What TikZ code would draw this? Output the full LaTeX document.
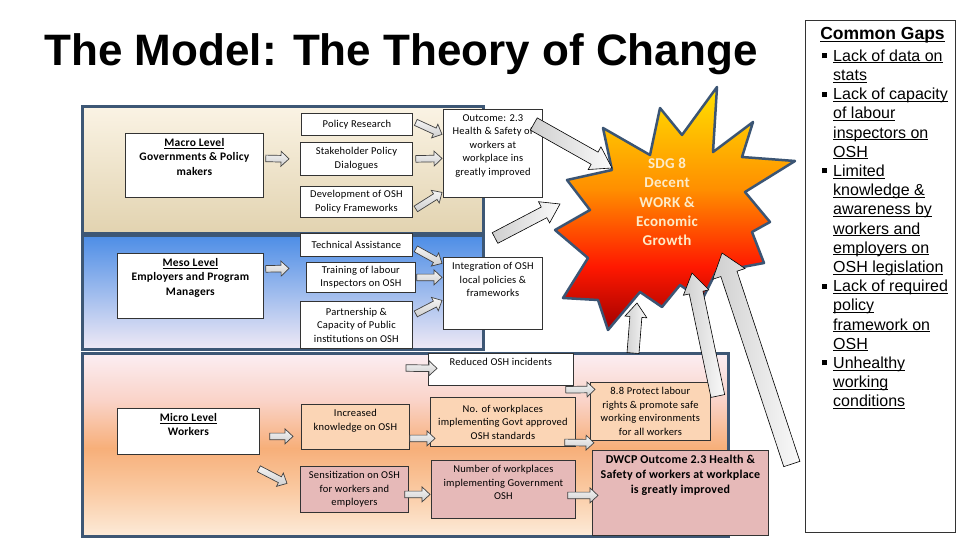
\documentclass[tikz,border=0pt]{standalone}
\usepackage{fontspec}
\setmainfont{Carlito}
\newfontfamily\arialfont{Liberation Sans}
\newfontfamily\boxfont[LetterSpace=2]{Carlito}
\usetikzlibrary{calc, positioning}

\definecolor{bandEdge}{HTML}{3D5775}
\definecolor{macTop}{HTML}{FAF3E4}
\definecolor{macBot}{HTML}{E2D3B0}
\definecolor{mesTop}{HTML}{4C8DE6}
\definecolor{mesBot}{HTML}{EFE9F5}
\definecolor{micTop}{HTML}{FBEEF3}
\definecolor{micUp}{HTML}{FAD3C8}
\definecolor{micMid}{HTML}{F7AF79}
\definecolor{micLow}{HTML}{FACBA4}
\definecolor{micBot}{HTML}{FDEBD9}
\definecolor{peach}{HTML}{FBD5B5}
\definecolor{rose}{HTML}{E6B9B8}
\definecolor{starYel}{HTML}{FFE100}
\definecolor{starOra}{HTML}{FF8F00}
\definecolor{starRed}{HTML}{FF1800}
\definecolor{starDark}{HTML}{A00000}
\definecolor{starEdge}{HTML}{3B5574}
\definecolor{sdgText}{HTML}{FDEBC8}

\pgfdeclareverticalshading{microfill}{100bp}{color(0bp)=(micBot); color(25bp)=(micBot);
  color(37bp)=(micLow); color(49bp)=(micMid); color(62bp)=(micUp); color(75bp)=(micTop); color(100bp)=(micTop)}
\pgfdeclareverticalshading{starfill}{100bp}{color(0bp)=(starDark); color(25bp)=(starDark);
  color(38bp)=(starRed); color(54bp)=(starOra); color(75bp)=(starYel); color(100bp)=(starYel)}

\tikzset{
  band/.style={draw=bandEdge, line width=3pt},
  lvlbox/.style={draw=black!80, fill=white, line width=0.8pt, inner sep=0pt, anchor=north west,
                 font=\boxfont\bfseries\fontsize{11.5}{14.5}\selectfont},
  stepbox/.style={draw=black!80, fill=white, line width=0.8pt, inner sep=0pt, anchor=north west,
                  font=\boxfont\fontsize{10.5}{13.5}\selectfont},
  thinarr/.style={draw=black!75, line width=0.7pt, top color=gray!8, bottom color=gray!38},
  fatarr/.style={draw=black, line width=0.6pt, left color=gray!38, right color=gray!4},
  gapsbox/.style={draw=black!80, line width=1pt, fill=white, anchor=north west,
                  minimum width=150pt, minimum height=512pt},
}

% underlined words
\newcommand{\uline}[1]{\leavevmode\setbox0\hbox{#1}\rlap{\rule[-2pt]{\wd0}{0.8pt}}\box0}
% box text: centred or hung from the top
\newcommand{\boxtext}[3]{\parbox[t][#2][c]{#1}{\centering #3}}
\newcommand{\toptext}[3]{\parbox[t][#2][t]{#1}{\centering\vspace*{5pt}#3}}
% block arrow: [style]{from}{to}{half shaft}{half head}{head length}
\newcommand{\fatarrow}[6][thinarr]{%
  \coordinate (fa-s) at (#2);
  \coordinate (fa-e) at (#3);
  \coordinate (fa-n) at ($(fa-e)!#6!(fa-s)$);
  \draw[#1] ($(fa-s)!#4!90:(fa-e)$) -- ($(fa-n)!#4!90:(fa-e)$) -- ($(fa-n)!#5!90:(fa-e)$) -- (fa-e)
    -- ($(fa-n)!#5!-90:(fa-e)$) -- ($(fa-n)!#4!-90:(fa-e)$) -- ($(fa-s)!#4!-90:(fa-e)$) -- cycle;}
\newcommand{\smallarrow}[2]{\fatarrow[thinarr]{#1}{#2}{3.3pt}{7.5pt}{8pt}}
\newcommand{\gapbul}{\makebox[19pt][l]{\hspace*{8pt}\rule[3pt]{5pt}{5pt}}}
\newcommand{\gapind}{\hspace*{19pt}}

\begin{document}
\begin{tikzpicture}[x=1pt, y=-1pt]
\fill[white] (0,0) rectangle (960,540);
\useasboundingbox (0,0) rectangle (960,540);

\node[anchor=base, font=\arialfont\bfseries\fontsize{44}{50}\selectfont] (title) at (401,66)
  {The Model: The Theory of Change};

% the three levels
\draw[band, top color=macTop, bottom color=macBot] (82,107) rectangle (483,233);
\draw[band, top color=mesTop, bottom color=mesBot] (82,235) rectangle (483,349);
\draw[band, shading=microfill] (82,353) rectangle (728,536);

% SDG 8 burst
\draw[draw=starEdge, line width=2.5pt, line join=round, shading=starfill]
  (717,87) -- (713,152) -- (753,122) -- (742,157) -- (795,161) -- (745,192) -- (770,222)
  -- (752,232) -- (764,263) -- (716,272) -- (702,300) -- (680,285) -- (662,307) -- (640,292)
  -- (608,330) -- (598,300) -- (563,298) -- (588,258) -- (555,230) -- (590,210) -- (567,180)
  -- (612,170) -- (603,128) -- (650,155) -- (660,108) -- (682,135) -- cycle;
\node[font=\boxfont\bfseries\fontsize{15}{19.3}\selectfont, text=sdgText, align=center] (sdg) at (667,202)
  {SDG 8\\Decent\\WORK \&\\Economic\\Growth};
\coordinate (sdgW) at (612,168);
\coordinate (sdgSW) at (560,204);
\coordinate (sdgS) at (637,303);
\coordinate (sdgSE) at (692,273);
\coordinate (sdgE) at (722,253);

% levels
\node[lvlbox] (macro) at (125,133) {\toptext{138pt}{64pt}{\uline{Macro Level}\\Governments \& Policy\\makers}};
\node[lvlbox] (meso) at (117,253) {\toptext{146pt}{65pt}{\uline{Meso Level}\\Employers and Program\\Managers}};
\node[lvlbox] (micro) at (117,408) {\toptext{142pt}{46pt}{\uline{Micro Level}\\Workers}};

% macro steps
\node[stepbox] (polres) at (301,113) {\boxtext{111pt}{22pt}{Policy Research}};
\node[stepbox] (stake) at (300,142) {\boxtext{112pt}{33pt}{Stakeholder Policy\\Dialogues}};
\node[stepbox] (devosh) at (300,186) {\boxtext{112pt}{31pt}{Development of OSH\\Policy Frameworks}};
\node[stepbox] (outc) at (443,109) {\toptext{99pt}{88pt}{Outcome: 2.3\\Health \& Safety of\\workers at\\workplace ins\\greatly improved}};

% meso steps
\node[stepbox] (techas) at (300,233) {\boxtext{112pt}{23pt}{Technical Assistance}};
\node[stepbox] (train) at (306,262) {\boxtext{109pt}{30pt}{Training of labour\\Inspectors on OSH}};
\node[stepbox] (partner) at (300,301) {\boxtext{112pt}{47pt}{Partnership \&\\Capacity of Public\\institutions on OSH}};
\node[stepbox] (integ) at (443,257) {\toptext{99pt}{72pt}{Integration of OSH\\local policies \&\\frameworks}};

% micro steps
\node[stepbox] (reduced) at (428,353) {\toptext{145pt}{32pt}{Reduced OSH incidents}};
\node[stepbox, fill=peach] (incr) at (301,404) {\toptext{108pt}{45pt}{Increased\\knowledge on OSH}};
\node[stepbox, fill=rose] (sensit) at (300,466) {\boxtext{108pt}{46pt}{Sensitization on OSH\\for workers and\\employers}};
\node[stepbox, fill=peach] (noworks) at (430,397) {\boxtext{145pt}{49pt}{No. of workplaces\\implementing Govt approved\\OSH standards}};
\node[stepbox, fill=rose] (numworks) at (431,460) {\toptext{144pt}{58pt}{Number of workplaces\\implementing Government\\OSH}};
\node[stepbox, fill=peach] (protect) at (590,382) {\boxtext{120pt}{58pt}{8.8 Protect labour\\rights \& promote safe\\working environments\\for all workers}};
\node[stepbox, fill=rose, font=\boxfont\bfseries\fontsize{12}{15}\selectfont] (dwcp) at (592,450)
  {\toptext{176pt}{85pt}{DWCP Outcome 2.3 Health \&\\Safety of workers at workplace\\is greatly improved}};

% small arrows
\smallarrow{$(macro.east)+(2,-7)$}{$(stake.west)+(-11,0)$}
\smallarrow{$(meso.east)+(2,-17)$}{$(train.west)+(-17,-9)$}
\smallarrow{$(polres.east)+(3,-2)$}{$(outc.west)+(-1,-19)$}
\smallarrow{$(stake.east)+(3,0)$}{$(outc.west)+(-1,5)$}
\smallarrow{$(devosh.east)+(3,7)$}{$(outc.west)+(-1,39)$}
\smallarrow{$(techas.east)+(3,4)$}{$(integ.west)+(-1,-30)$}
\smallarrow{$(train.east)+(1,0)$}{$(integ.west)+(-1,-16)$}
\smallarrow{$(partner.east)+(3,-11)$}{$(integ.west)+(-1,7)$}
\coordinate (redin) at (406,368);
\smallarrow{redin}{$(reduced.west)+(9,-1)$}
\smallarrow{$(micro.east)+(10,5)$}{$(incr.west)+(-8,9.5)$}
\smallarrow{$(micro.south east)+(-1,14)$}{$(sensit.west)+(-13,-6)$}
\smallarrow{$(incr.east)+(0,11.5)$}{$(noworks.west)+(5,16.5)$}
\smallarrow{$(sensit.east)+(-4,5)$}{$(numworks.west)+(-1,5)$}
\smallarrow{$(reduced.south east)+(-8,4)$}{$(protect.west)+(5,-22)$}
\smallarrow{$(noworks.east)+(-11,20.5)$}{$(protect.south west)+(4,2)$}
\smallarrow{$(numworks.east)+(-8,6)$}{$(dwcp.west)+(6,2.5)$}

% big arrows into the burst
\coordinate (lead) at (495,238);
\coordinate (bandtop) at (633,353);
\fatarrow[fatarr]{$(outc.north east)+(-9,15)$}{sdgW}{7pt}{13pt}{20pt}
\fatarrow[fatarr]{lead}{sdgSW}{6pt}{12pt}{18pt}
\fatarrow[fatarr]{bandtop}{sdgS}{6pt}{11pt}{14pt}
\fatarrow[fatarr]{$(protect.north east)+(7,14)$}{sdgSE}{7pt}{13pt}{20pt}
\fatarrow[fatarr]{$(dwcp.north east)+(23,14)$}{sdgE}{8.5pt}{17pt}{22pt}

% common gaps
\node[gapsbox] (gaps) at (805,20) {};
\node[anchor=base, font=\arialfont\bfseries\fontsize{17.5}{20}\selectfont] (gapshead) at ($(gaps.north)+(2,20)$)
  {\uline{Common Gaps}};
\node[anchor=north west, inner sep=0pt, align=left, font=\arialfont\fontsize{16}{19.2}\selectfont] (gapitems)
  at ($(gaps.north west)+(9,29.5)$) {%
  \gapbul\uline{Lack of data on}\\
  \gapind\uline{stats}\\
  \gapbul\uline{Lack of capacity}\\
  \gapind\uline{of labour}\\
  \gapind\uline{inspectors on}\\
  \gapind\uline{OSH}\\
  \gapbul\uline{Limited}\\
  \gapind\uline{knowledge \&}\\
  \gapind\uline{awareness by}\\
  \gapind\uline{workers and}\\
  \gapind\uline{employers on}\\
  \gapind\uline{OSH legislation}\\
  \gapbul\uline{Lack of required}\\
  \gapind\uline{policy}\\
  \gapind\uline{framework on}\\
  \gapind\uline{OSH}\\
  \gapbul\uline{Unhealthy}\\
  \gapind\uline{working}\\
  \gapind\uline{conditions}};
\end{tikzpicture}
\end{document}
